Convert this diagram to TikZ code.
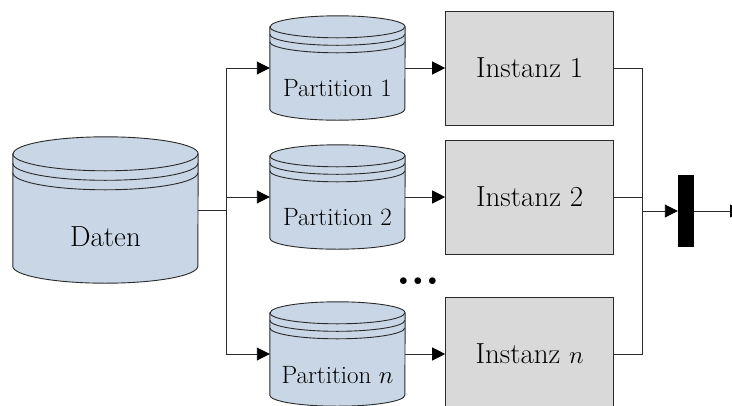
\documentclass[tikz,border=0pt]{standalone}
\usepackage{tikz}
\usetikzlibrary{arrows.meta,positioning}
\definecolor{dbblue}{HTML}{C8D6E6}
\definecolor{instgray}{HTML}{D9D9D9}
\definecolor{wire}{HTML}{2A2A2A}

% cylinder drawn round an empty box node: #1 node, #2 x radius, #3 y radius, #4 ring gap
\newcommand{\dbcyl}[4]{%
  \filldraw[draw=wire, fill=dbblue, line width=0.9pt]
    ([yshift=-#3]#1.north west) -- ([yshift=#3]#1.south west)
    arc[start angle=180, end angle=360, x radius=#2, y radius=#3]
    -- ([yshift=-#3]#1.north east)
    arc[start angle=0, end angle=180, x radius=#2, y radius=#3] -- cycle;
  \draw[wire, line width=0.9pt]
    ([yshift=-#3]#1.north west) arc[start angle=180, end angle=360, x radius=#2, y radius=#3]
    ([yshift={-(#3+#4)}]#1.north west) arc[start angle=180, end angle=360, x radius=#2, y radius=#3]
    ([yshift={-(#3+2*#4)}]#1.north west) arc[start angle=180, end angle=360, x radius=#2, y radius=#3];
}

\begin{document}
\begin{tikzpicture}[x=1pt, y=-1pt, >={Triangle[length=13pt,width=13pt,color=black]}]
  \clip (0,0) rectangle (732,405);
  \tikzset{
    dbbox/.style={inner sep=0pt, minimum width=135pt, minimum height=104pt},
    inst/.style={draw=wire, fill=instgray, line width=0.9pt, minimum width=168pt,
      minimum height=114pt, font=\fontsize{29}{33}\selectfont},
    wireline/.style={draw=wire, line width=0.9pt}
  }

  % empty boxes that carry the names
  \node[dbbox, minimum width=185pt, minimum height=146pt] (daten) at (105.5,210) {};
  \node[dbbox] (part1) at (337.5,68) {};
  \node[dbbox] (part2) at (337.5,197) {};
  \node[dbbox] (partn) at (337.5,354) {};

  \dbcyl{daten}{92.5pt}{17pt}{9.5pt}
  \dbcyl{part1}{67.5pt}{11pt}{7.5pt}
  \dbcyl{part2}{67.5pt}{11pt}{7.5pt}
  \dbcyl{partn}{67.5pt}{11pt}{7.5pt}

  \node[font=\fontsize{29}{33}\selectfont] (daten-text) at ([yshift=-27pt]daten.center) {Daten};
  \node[font=\fontsize{25}{29}\selectfont] (part1-text) at ([yshift=-20pt]part1.center) {Partition 1};
  \node[font=\fontsize{25}{29}\selectfont] (part2-text) at ([yshift=-20pt]part2.center) {Partition 2};
  \node[font=\fontsize{25}{29}\selectfont] (partn-text) at ([yshift=-21pt]partn.center) {Partition $n$};

  \node[inst, right=40pt of part1] (inst1) {Instanz 1};
  \node[inst, right=40pt of part2] (inst2) {Instanz 2};
  \node[inst, right=40pt of partn] (instn) {Instanz $n$};

  \node[font=\fontsize{17}{20}\selectfont] (dots) at (418,282) {$\bullet\hspace{2pt}\bullet\hspace{2pt}\bullet$};

  \node[fill=black, inner sep=0pt, minimum width=16pt, minimum height=72pt] (bar) at (686,211) {};

  \coordinate (split) at (226,210);
  \coordinate (merge) at (642,211);
  \coordinate (out) at (743,211);

  % fan out
  \draw[wireline] (daten.east) -- (split);
  \draw[wireline] (split |- part1.west) -- (split |- partn.west);
  \draw[wireline, ->] (split |- part1.west) -- (part1.west);
  \draw[wireline, ->] (split |- part2.west) -- (part2.west);
  \draw[wireline, ->] (split |- partn.west) -- (partn.west);

  \draw[wireline, ->] (part1.east) -- (inst1.west);
  \draw[wireline, ->] (part2.east) -- (inst2.west);
  \draw[wireline, ->] (partn.east) -- (instn.west);

  % fan in
  \draw[wireline] (inst1.east) -- (merge |- inst1.east) -- (merge |- instn.east) -- (instn.east);
  \draw[wireline] (inst2.east) -- (merge |- inst2.east);
  \draw[wireline, ->] (merge) -- (bar.west);
  \draw[wireline, ->] (bar.east) -- (out);
\end{tikzpicture}
\end{document}
